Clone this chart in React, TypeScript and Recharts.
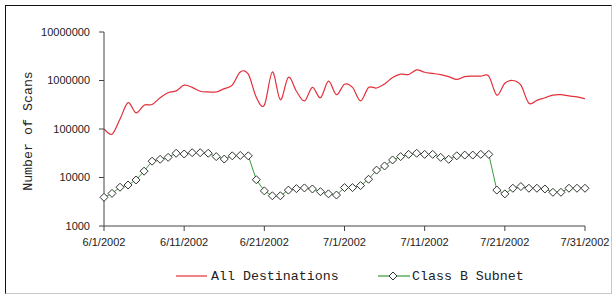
import React from "react";
import { LineChart, Line, XAxis, YAxis, Legend } from "recharts";

const dates: string[] = [
  "6/1/2002", "6/2/2002", "6/3/2002", "6/4/2002", "6/5/2002", "6/6/2002", "6/7/2002", "6/8/2002", "6/9/2002", "6/10/2002",
  "6/11/2002", "6/12/2002", "6/13/2002", "6/14/2002", "6/15/2002", "6/16/2002", "6/17/2002", "6/18/2002", "6/19/2002", "6/20/2002",
  "6/21/2002", "6/22/2002", "6/23/2002", "6/24/2002", "6/25/2002", "6/26/2002", "6/27/2002", "6/28/2002", "6/29/2002", "6/30/2002",
  "7/1/2002", "7/2/2002", "7/3/2002", "7/4/2002", "7/5/2002", "7/6/2002", "7/7/2002", "7/8/2002", "7/9/2002", "7/10/2002",
  "7/11/2002", "7/12/2002", "7/13/2002", "7/14/2002", "7/15/2002", "7/16/2002", "7/17/2002", "7/18/2002", "7/19/2002", "7/20/2002",
  "7/21/2002", "7/22/2002", "7/23/2002", "7/24/2002", "7/25/2002", "7/26/2002", "7/27/2002", "7/28/2002", "7/29/2002", "7/30/2002",
  "7/31/2002",
];

const allDestinations: number[] = [
  100000, 78000, 160000, 350000, 215000, 310000, 320000, 440000, 560000, 610000,
  800000, 720000, 600000, 580000, 580000, 680000, 800000, 1500000, 1350000, 450000,
  310000, 1500000, 400000, 1170000, 600000, 380000, 720000, 440000, 970000, 510000,
  840000, 720000, 380000, 720000, 700000, 850000, 1150000, 1350000, 1330000, 1650000,
  1480000, 1400000, 1320000, 1200000, 1050000, 1200000, 1230000, 1230000, 1230000, 500000,
  880000, 1000000, 800000, 340000, 390000, 440000, 500000, 510000, 480000, 460000,
  420000,
];

const classBSubnet: number[] = [
  3900, 4700, 6300, 7000, 8900, 13500, 21700, 23700, 26000, 31600,
  30500, 32500, 32500, 31600, 27000, 24000, 28000, 28500, 28000, 9000,
  5300, 4200, 4200, 5500, 5900, 6100, 5800, 5100, 4600, 4350,
  6200, 6200, 6800, 9200, 14200, 17300, 23000, 27000, 30000, 31600,
  30000, 30000, 26000, 23700, 28000, 29000, 29000, 30000, 30000, 5500,
  4600, 6000, 6500, 6000, 6000, 5800, 4950, 4950, 6000, 6000,
  6000,
];

const xTicks: string[] = ["6/1/2002", "6/11/2002", "6/21/2002", "7/1/2002", "7/11/2002", "7/21/2002", "7/31/2002"];
const yTicks: number[] = [1000, 10000, 100000, 1000000, 10000000];

const seriesNames = ["All Destinations", "Class B Subnet"];

const data = dates.map((d, i) => ({
  date: d,
  all: allDestinations[i],
  classB: classBSubnet[i],
}));

const RED = "#e3303a";
const GREEN = "#3a9a3a";
const AXIS = "#444";
const MONO = "'Liberation Mono', 'DejaVu Sans Mono', monospace";
const SANS = "'Liberation Sans', Arial, sans-serif";

// Catmull-Rom style smoothing (like a spreadsheet "smoothed line")
const smoothCurve = (context: any) => {
  let pts: [number, number][] = [];
  return {
    areaStart() {},
    areaEnd() {},
    lineStart() {
      pts = [];
    },
    lineEnd() {
      const n = pts.length;
      if (n === 0) return;
      context.moveTo(pts[0][0], pts[0][1]);
      for (let i = 0; i < n - 1; i++) {
        const p0 = pts[i > 0 ? i - 1 : i];
        const p1 = pts[i];
        const p2 = pts[i + 1];
        const p3 = pts[i + 2 < n ? i + 2 : i + 1];
        context.bezierCurveTo(
          p1[0] + (p2[0] - p0[0]) / 6,
          p1[1] + (p2[1] - p0[1]) / 6,
          p2[0] - (p3[0] - p1[0]) / 6,
          p2[1] - (p3[1] - p1[1]) / 6,
          p2[0],
          p2[1]
        );
      }
    },
    point(x: number, y: number) {
      pts.push([+x, +y]);
    },
  };
};

const Diamond = (props: any) => {
  const { cx, cy } = props;
  if (cx == null || cy == null) return null;
  const r = 4;
  return (
    <polygon
      points={`${cx},${cy - r} ${cx + r},${cy} ${cx},${cy + r} ${cx - r},${cy}`}
      fill="#fff"
      stroke="#333"
      strokeWidth={1}
    />
  );
};

const LegendContent = () => (
  <svg width={615} height={22} style={{ display: "block" }}>
    <line x1={176} y1={11} x2={207} y2={11} stroke={RED} strokeWidth={1.2} />
    <text x={211} y={11} dominantBaseline="central" fontFamily={MONO} fontSize={13.3} fill="#222">
      {seriesNames[0]}
    </text>
    <line x1={378} y1={11} x2={410} y2={11} stroke={GREEN} strokeWidth={1.2} />
    <polygon points="393,7 397,11 393,15 389,11" fill="#fff" stroke="#333" strokeWidth={1} />
    <text x={412} y={11} dominantBaseline="central" fontFamily={MONO} fontSize={13.3} fill="#222">
      {seriesNames[1]}
    </text>
  </svg>
);

const YLabel = () => (
  <text
    x={28}
    y={131}
    transform="rotate(-90 28 131)"
    textAnchor="middle"
    dominantBaseline="central"
    fontFamily={MONO}
    fontSize={13.3}
    fill="#222"
  >
    Number of Scans
  </text>
);

export default function App() {
  return (
    <div style={{ position: "relative", width: 615, height: 295, background: "#fff" }}>
      <style>{`body{margin:0;background:#fff}`}</style>
      <div
        style={{
          position: "absolute",
          left: 5,
          top: 5,
          width: 605,
          height: 287,
          borderTop: "1px solid #111",
          borderLeft: "1px solid #111",
          borderRight: "1px solid #c8c8c8",
          borderBottom: "1px solid #c8c8c8",
          pointerEvents: "none",
        }}
      />
      <LineChart
        width={615}
        height={295}
        data={data}
        margin={{ top: 32, right: 30, bottom: 17, left: 0 }}
        style={{ position: "absolute", left: 0, top: 0 }}
      >
        <XAxis
          dataKey="date"
          ticks={xTicks}
          interval={0}
          tickSize={5}
          tickMargin={7}
          height={30}
          stroke={AXIS}
          tick={{ fontFamily: SANS, fontSize: 11, fill: "#222" }}
        />
        <YAxis
          scale="log"
          domain={[1000, 10000000]}
          ticks={yTicks}
          interval={0}
          width={104}
          tickSize={5}
          tickMargin={9}
          stroke={AXIS}
          allowDataOverflow
          tick={{ fontFamily: SANS, fontSize: 11, fill: "#222" }}
          label={{ content: () => <YLabel /> }}
        />
        <Legend
          verticalAlign="bottom"
          content={() => <LegendContent />}
          wrapperStyle={{ position: "absolute", left: 0, top: 265, width: 615, height: 22 }}
        />
        <Line
          type={smoothCurve as any}
          dataKey="all"
          name={seriesNames[0]}
          stroke={RED}
          strokeWidth={1.2}
          dot={false}
          isAnimationActive={false}
        />
        <Line
          type="linear"
          dataKey="classB"
          name={seriesNames[1]}
          stroke={GREEN}
          strokeWidth={1}
          dot={<Diamond />}
          isAnimationActive={false}
        />
      </LineChart>
    </div>
  );
}
